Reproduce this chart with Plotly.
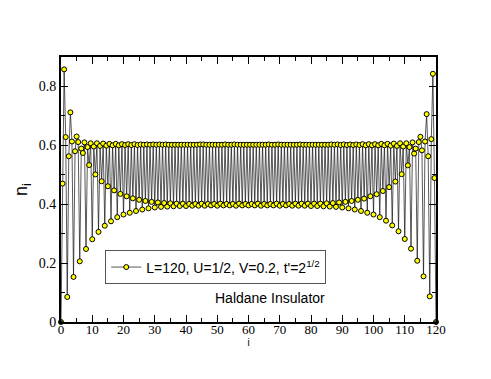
import plotly.graph_objects as go

# Site densities n_i, split by sublattice (x = position along the chain)
# even integer sites x = 0, 2, ..., 120
n_even = [0.000, 0.085, 0.153, 0.206, 0.248, 0.281, 0.306, 0.327, 0.342, 0.356,
          0.365, 0.371, 0.377, 0.382, 0.386, 0.389, 0.391, 0.392, 0.393, 0.394,
          0.394, 0.395, 0.395, 0.395, 0.396, 0.395, 0.396, 0.396, 0.395, 0.396,
          0.396,
          0.396, 0.395, 0.396, 0.396, 0.395, 0.396, 0.395, 0.395, 0.395, 0.394,
          0.394, 0.393, 0.392, 0.391, 0.389, 0.386, 0.382, 0.377, 0.371, 0.365,
          0.356, 0.344, 0.328, 0.308, 0.282, 0.249, 0.208, 0.155, 0.087, 0.000]
# odd integer sites x = 1, 3, ..., 119
n_odd = [0.858, 0.712, 0.630, 0.574, 0.533, 0.501, 0.478, 0.461, 0.447, 0.435,
         0.427, 0.420, 0.415, 0.411, 0.408, 0.406, 0.404, 0.403, 0.402, 0.402,
         0.401, 0.401, 0.402, 0.401, 0.401, 0.402, 0.401, 0.401, 0.402, 0.401,
         0.401, 0.402, 0.401, 0.401, 0.402, 0.401, 0.401, 0.402, 0.402, 0.402,
         0.402, 0.402, 0.403, 0.404, 0.406, 0.408, 0.411, 0.415, 0.419, 0.427,
         0.434, 0.445, 0.458, 0.477, 0.502, 0.532, 0.572, 0.629, 0.706, 0.843]
# half-integer sites x = 0.5, 2.5, ..., 118.5
n_half_a = [0.470, 0.563, 0.580, 0.589, 0.594, 0.596, 0.598, 0.599, 0.600, 0.600,
            0.601, 0.601, 0.601, 0.602, 0.602, 0.602, 0.602, 0.602, 0.602, 0.602,
            0.602, 0.602, 0.603, 0.602, 0.602, 0.602, 0.603, 0.602, 0.602, 0.602,
            0.602, 0.602, 0.602, 0.603, 0.602, 0.602, 0.602, 0.602, 0.603, 0.602,
            0.602, 0.602, 0.602, 0.603, 0.603, 0.603, 0.603, 0.603, 0.604, 0.604,
            0.604, 0.605, 0.605, 0.606, 0.607, 0.607, 0.610, 0.611, 0.613, 0.621]
# half-integer sites x = 1.5, 3.5, ..., 119.5
n_half_b = [0.628, 0.613, 0.611, 0.610, 0.607, 0.607, 0.606, 0.605, 0.605, 0.604,
            0.604, 0.604, 0.603, 0.603, 0.603, 0.603, 0.603, 0.602, 0.602, 0.602,
            0.602, 0.602, 0.603, 0.602, 0.602, 0.602, 0.602, 0.603, 0.602, 0.602,
            0.602, 0.602, 0.602, 0.602, 0.603, 0.602, 0.602, 0.602, 0.602, 0.602,
            0.602, 0.602, 0.602, 0.602, 0.601, 0.601, 0.601, 0.601, 0.600, 0.600,
            0.600, 0.600, 0.599, 0.598, 0.596, 0.594, 0.589, 0.583, 0.563, 0.489]

x_even = [2 * k for k in range(len(n_even))]
x_odd = [2 * k + 1 for k in range(len(n_odd))]
x_half_a = [2 * k + 0.5 for k in range(len(n_half_a))]
x_half_b = [2 * k + 1.5 for k in range(len(n_half_b))]

pts = sorted(list(zip(x_even, n_even)) + list(zip(x_odd, n_odd)) +
             list(zip(x_half_a, n_half_a)) + list(zip(x_half_b, n_half_b)))
xs = [p[0] for p in pts]
ys = [p[1] for p in pts]
x_end = [p[0] for p in pts if p[1] == 0]
y_end = [p[1] for p in pts if p[1] == 0]

legend_label = "L=120, U=1/2, V=0.2, t'=2<sup>1/2</sup>"

fig = go.Figure()
fig.add_trace(go.Scatter(
    x=xs, y=ys, mode="lines+markers", name=legend_label,
    line=dict(color="#111111", width=0.7),
    marker=dict(color="#ffff00", size=5, line=dict(color="black", width=1)),
    cliponaxis=False,
))
fig.add_trace(go.Scatter(
    x=x_end, y=y_end, mode="markers", showlegend=False, hoverinfo="skip",
    marker=dict(color="#222222", size=4, line=dict(color="black", width=0)),
    cliponaxis=False,
))

serif = "Liberation Serif"
sans = "Liberation Sans"

# page body has an 8px margin: shrink figure and margins to compensate
fig.update_layout(
    width=483, height=371,
    margin=dict(l=49, r=55, t=49, b=57, pad=0),
    paper_bgcolor="white", plot_bgcolor="white",
    showlegend=True,
    legend=dict(x=0.118, y=0.27, xanchor="left", yanchor="top",
                bgcolor="white", bordercolor="#555555", borderwidth=1,
                font=dict(family=sans, size=14, color="black"),
                itemwidth=30, tracegroupgap=0),
    annotations=[dict(text="Haldane Insulator", x=0.557, y=0.092,
                      xref="paper", yref="paper", showarrow=False,
                      xanchor="center", yanchor="middle",
                      font=dict(family=sans, size=14, color="black"))],
)
fig.update_xaxes(
    range=[0, 120], dtick=10, tick0=0, showgrid=False, zeroline=False,
    showline=True, linecolor="black", linewidth=2, mirror="allticks",
    ticks="inside", ticklen=7, tickwidth=1, tickcolor="black",
    minor=dict(dtick=5, ticks="inside", ticklen=4, tickwidth=1, tickcolor="black"),
    tickfont=dict(family=serif, size=13, color="black"),
    ticklabelstandoff=-6,
    title=dict(text="i", font=dict(family=sans, size=10, color="black"), standoff=1),
)
fig.update_yaxes(
    range=[0, 0.9], dtick=0.2, tick0=0, showgrid=False, zeroline=False,
    showline=True, linecolor="black", linewidth=2, mirror="allticks",
    ticks="inside", ticklen=7, tickwidth=1, tickcolor="black",
    minor=dict(dtick=0.1, ticks="inside", ticklen=4, tickwidth=1, tickcolor="black"),
    tickfont=dict(family=serif, size=14, color="black"),
    title=dict(text="n<sub>i</sub>", font=dict(family=sans, size=18, color="black"), standoff=6),
)

fig.write_html("out.html")
